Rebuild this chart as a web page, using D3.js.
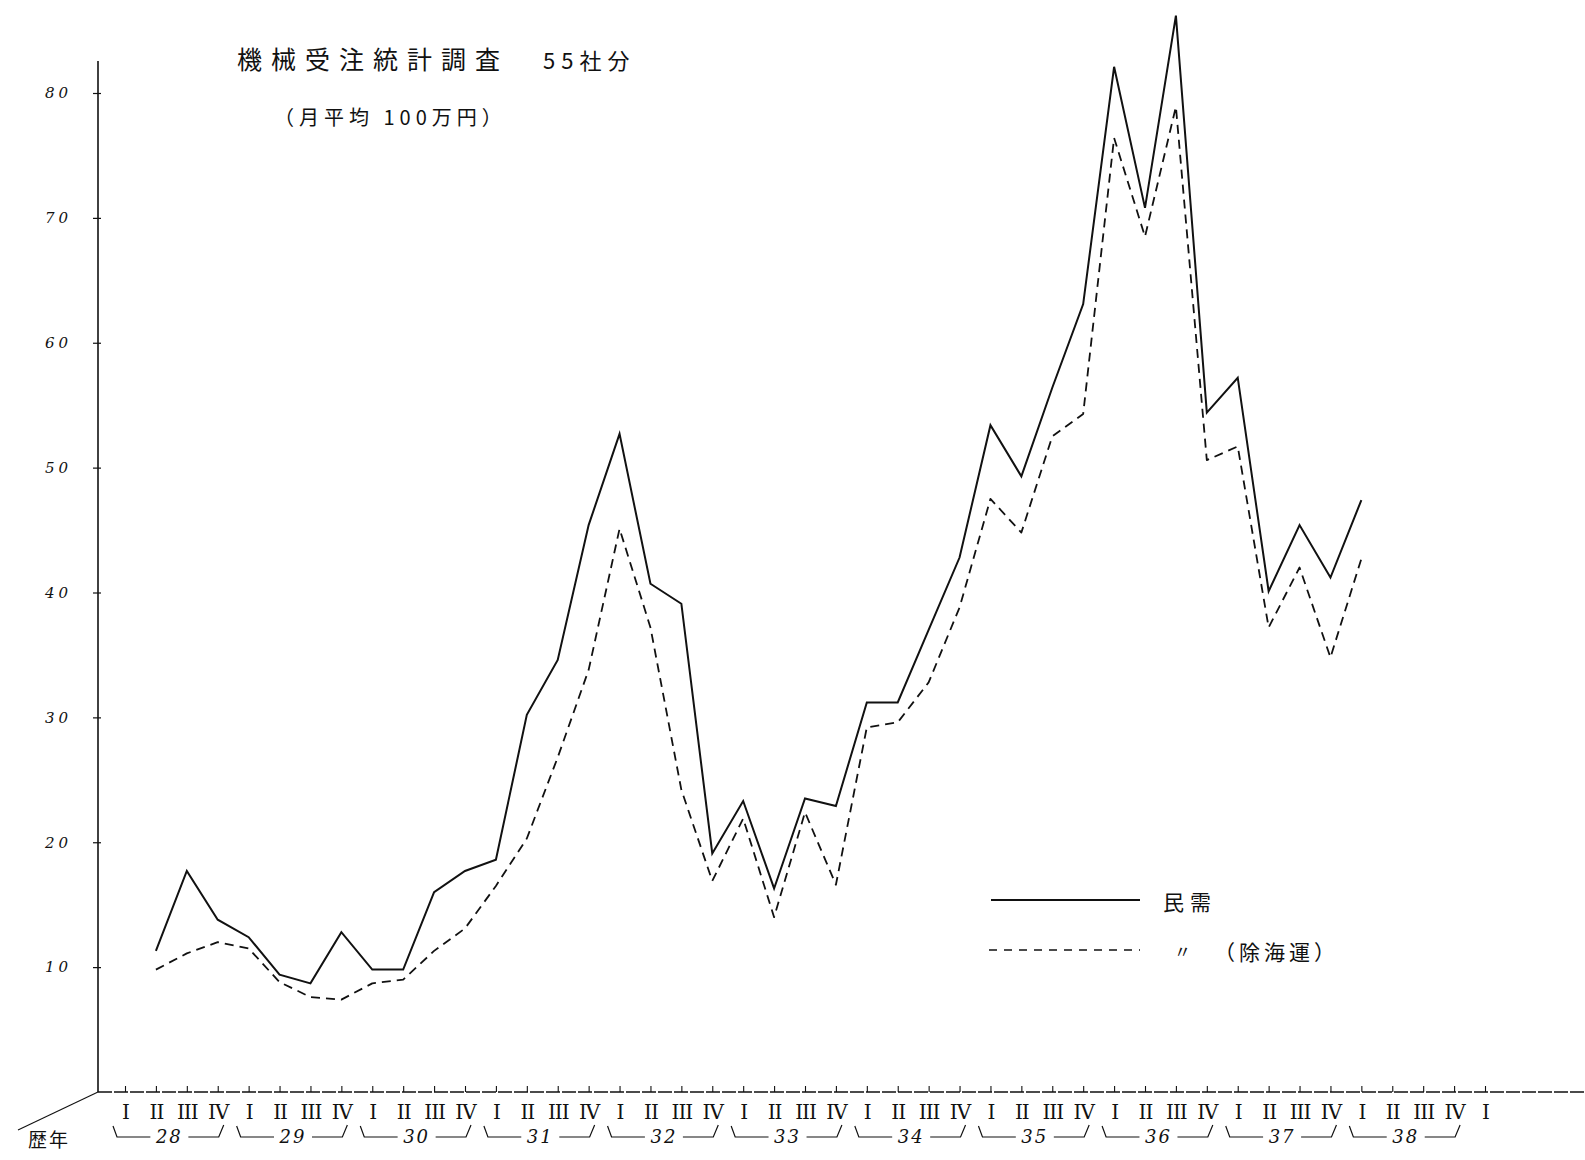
<!DOCTYPE html>
<html>
<head>
<meta charset="utf-8">
<script src="https://cdn.jsdelivr.net/npm/d3@7"></script>
<style>
  html, body { margin: 0; padding: 0; background: #fff; }
  svg { display: block; }
</style>
</head>
<body>
<svg id="chart" width="1585" height="1160"></svg>
<script>
// ---------- data ----------
const years = ["28", "29", "30", "31", "32", "33", "34", "35", "36", "37", "38"];
const quarterNames = ["I", "II", "III", "IV"];
// quarterly points from 28 II to 38 I
const periods = [
  "28-II","28-III","28-IV",
  "29-I","29-II","29-III","29-IV",
  "30-I","30-II","30-III","30-IV",
  "31-I","31-II","31-III","31-IV",
  "32-I","32-II","32-III","32-IV",
  "33-I","33-II","33-III","33-IV",
  "34-I","34-II","34-III","34-IV",
  "35-I","35-II","35-III","35-IV",
  "36-I","36-II","36-III","36-IV",
  "37-I","37-II","37-III","37-IV",
  "38-I"
];
// 民需
const privateDemand = [
  11.3, 17.7, 13.8,
  12.4, 9.4, 8.7, 12.8,
  9.8, 9.8, 16.0, 17.7,
  18.6, 30.2, 34.6, 45.4,
  52.7, 40.7, 39.1, 19.1,
  23.3, 16.3, 23.5, 22.9,
  31.2, 31.2, 37.0, 42.8,
  53.4, 49.3, 56.4, 63.1,
  82.1, 70.8, 86.2, 54.4,
  57.2, 40.1, 45.4, 41.2,
  47.4
];
// 〃（除海運）
const privateExShipping = [
  9.8, 11.1, 12.0,
  11.5, 8.8, 7.6, 7.4,
  8.7, 9.0, 11.3, 13.1,
  16.5, 20.3, 26.8, 33.8,
  45.1, 37.2, 24.2, 16.9,
  21.9, 14.0, 22.4, 16.6,
  29.2, 29.6, 32.8, 38.8,
  47.5, 44.8, 52.5, 54.3,
  76.4, 68.5, 78.9, 50.6,
  51.7, 37.2, 42.0, 34.8,
  42.7
];
const yTicks = [10, 20, 30, 40, 50, 60, 70, 80];

// ---------- build ----------
const svg = d3.select("#chart");
// index 0 = 28 I ; last axis label = 39 I
const allLabels = [];
years.forEach(y => quarterNames.forEach(q => allLabels.push(y + "-" + q)));
allLabels.push("39-I");
const idx = new Map(allLabels.map((d, i) => [d, i]));

const x = d3.scaleLinear().domain([0, allLabels.length - 1]).range([125, 1485]);
const y = d3.scaleLinear().domain([0, 80]).range([1092, 93]);

const axisX0 = 98;
const ink = "#111";

// y axis
svg.append("line")
  .attr("x1", axisX0).attr("x2", axisX0)
  .attr("y1", 61).attr("y2", y(0))
  .attr("stroke", ink).attr("stroke-width", 1.6);
const yAxis = d3.axisLeft(y).tickValues(yTicks).tickSize(6).tickSizeOuter(0).tickFormat(d3.format("d"));
const gy = svg.append("g").attr("transform", `translate(${axisX0},0)`).call(yAxis);
gy.select(".domain").remove();
gy.selectAll(".tick line").attr("stroke", ink).attr("stroke-width", 1.2).attr("x2", -5).attr("x1", 3);
gy.selectAll(".tick text")
  .attr("x", -26)
  .attr("fill", ink)
  .style("font-family", "'DejaVu Serif', serif")
  .style("font-style", "italic")
  .style("font-size", "15px")
  .style("letter-spacing", "4px");

// x axis baseline (extends to the page edge)
svg.append("line")
  .attr("x1", axisX0).attr("x2", 1585)
  .attr("y1", y(0)).attr("y2", y(0))
  .attr("stroke", ink).attr("stroke-width", 1.3)
  .attr("stroke-dasharray", "14,2");
// diagonal corner line
svg.append("line")
  .attr("x1", axisX0).attr("y1", y(0))
  .attr("x2", 18).attr("y2", y(0) + 38)
  .attr("stroke", ink).attr("stroke-width", 1.1);
svg.append("text")
  .attr("x", 49).attr("y", y(0) + 55)
  .attr("text-anchor", "middle")
  .attr("fill", ink)
  .style("font-family", "'Noto Sans CJK JP'")
  .style("font-size", "19px")
  .style("letter-spacing", "2px")
  .text("歴年");

const xAxis = d3.axisBottom(x)
  .tickValues(d3.range(allLabels.length))
  .tickSize(-6).tickSizeOuter(0)
  .tickFormat(i => allLabels[i].split("-")[1]);
const gx = svg.append("g").attr("transform", `translate(0,${y(0)})`).call(xAxis);
gx.select(".domain").remove();
gx.selectAll(".tick line").attr("stroke", ink).attr("stroke-width", 1.1);
gx.selectAll(".tick text")
  .attr("y", 9)
  .attr("dy", "0.9em")
  .attr("fill", ink)
  .style("font-family", "'DejaVu Serif', serif")
  .style("font-size", "20px")
  .style("letter-spacing", "-1px");

// year brackets
const by = y(0) + 45;
years.forEach(yr => {
  const x0 = x(idx.get(yr + "-I")) - 12;
  const x1 = x(idx.get(yr + "-IV")) + 6;
  const xm = (x0 + x1) / 2;
  const g = svg.append("g");
  g.append("path")
    .attr("d", `M${x0},${by - 11} L${x0 + 4},${by} L${xm - 18},${by} M${xm + 20},${by} L${x1 - 5},${by} L${x1},${by - 12}`)
    .attr("fill", "none").attr("stroke", ink).attr("stroke-width", 1.2);
  g.append("text")
    .attr("x", xm + 1).attr("y", by + 6)
    .attr("text-anchor", "middle")
    .attr("fill", ink)
    .style("font-family", "'DejaVu Serif', serif")
    .style("font-style", "italic")
    .style("font-size", "18px")
    .style("letter-spacing", "2px")
    .text(yr);
});

// lines
const line = d3.line()
  .x(d => x(idx.get(d.p)))
  .y(d => y(d.v));
const solidData = periods.map((p, i) => ({ p, v: privateDemand[i] }));
const dashData = periods.map((p, i) => ({ p, v: privateExShipping[i] }));

svg.append("path").datum(dashData)
  .attr("d", line)
  .attr("fill", "none").attr("stroke", ink)
  .attr("stroke-width", 1.8)
  .attr("stroke-dasharray", "9,6")
  .attr("stroke-linejoin", "round");
svg.append("path").datum(solidData)
  .attr("d", line)
  .attr("fill", "none").attr("stroke", ink)
  .attr("stroke-width", 2)
  .attr("stroke-linejoin", "miter");

// title
svg.append("text")
  .attr("x", 237).attr("y", 69)
  .attr("fill", ink)
  .style("font-family", "'Noto Sans CJK JP'")
  .style("font-size", "25px")
  .style("letter-spacing", "9px")
  .text("機械受注統計調査");
svg.append("text")
  .attr("x", 543).attr("y", 69)
  .attr("fill", ink)
  .style("font-family", "'Noto Sans CJK JP'")
  .style("font-size", "22px")
  .style("letter-spacing", "6px")
  .text("55社分");
svg.append("text")
  .attr("x", 274).attr("y", 125)
  .attr("fill", ink)
  .style("font-family", "'Noto Sans CJK JP'")
  .style("font-size", "20px")
  .style("letter-spacing", "5px")
  .text("（月平均 100万円）");

// legend
const legend = svg.append("g");
legend.append("line")
  .attr("x1", 991).attr("x2", 1140).attr("y1", 900).attr("y2", 900)
  .attr("stroke", ink).attr("stroke-width", 1.8);
legend.append("text")
  .attr("x", 1163).attr("y", 910)
  .attr("fill", ink)
  .style("font-family", "'Noto Sans CJK JP'")
  .style("font-size", "21px")
  .style("letter-spacing", "6px")
  .text("民需");
legend.append("line")
  .attr("x1", 989).attr("x2", 1140).attr("y1", 950).attr("y2", 950)
  .attr("stroke", ink).attr("stroke-width", 1.6)
  .attr("stroke-dasharray", "8,7");
legend.append("text")
  .attr("x", 1174).attr("y", 958)
  .attr("fill", ink)
  .style("font-family", "'Noto Sans CJK JP'")
  .style("font-size", "17px")
  .text("〃");
legend.append("text")
  .attr("x", 1214).attr("y", 960)
  .attr("fill", ink)
  .style("font-family", "'Noto Sans CJK JP'")
  .style("font-size", "21px")
  .style("letter-spacing", "4px")
  .text("（除海運）");
</script>
</body>
</html>
